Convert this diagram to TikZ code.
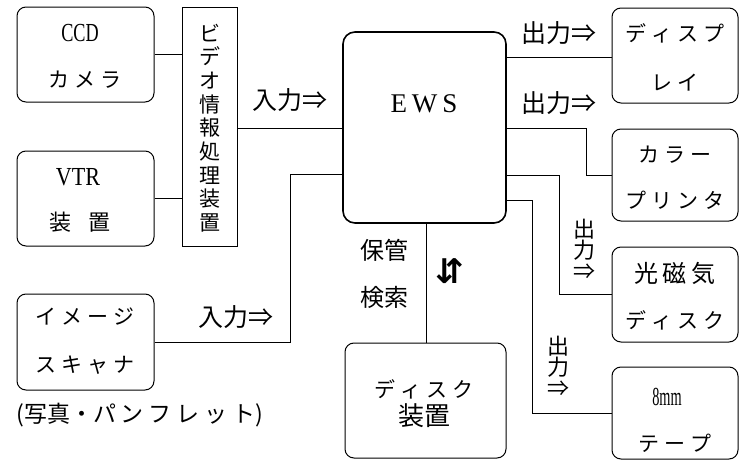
\documentclass[tikz,border=0pt]{standalone}
\usepackage{fontspec}
\newfontfamily\jp{Noto Sans CJK JP}
\newfontfamily\dv{DejaVu Sans}
\newfontfamily\lser{Liberation Serif}
\newcommand\gj{\hspace{5pt}}
\begin{document}
\begin{tikzpicture}[x=1pt,y=-1pt,
  box/.style={draw, line width=1pt, rounded corners=9pt, inner sep=0pt},
  sqbox/.style={draw, line width=1pt, inner sep=0pt},
  ewsbox/.style={draw, line width=1.6pt, rounded corners=12pt, inner sep=0pt},
  wire/.style={line width=0.8pt},
  jtxt/.style={inner sep=0pt, font=\jp\fontsize{21}{21}\selectfont},
  jbig/.style={inner sep=0pt, font=\jp\fontsize{24}{24}\selectfont},
  ltxt/.style={inner sep=0pt, font=\lser\fontsize{26}{26}\selectfont},
  vstack/.style={inner sep=0pt, align=center, font=\jp\fontsize{22}{21}\selectfont},
]
\useasboundingbox (0,0) rectangle (740,461);
% boxes
\node[box, minimum width=137pt, minimum height=95pt] (ccd) at (85.5,54.5) {};
\node[box, minimum width=137pt, minimum height=95pt] (vtr) at (85.5,198.5) {};
\node[sqbox, minimum width=55pt, minimum height=239pt] (video) at (209.5,126.5) {};
\node[box, minimum width=137pt, minimum height=96pt] (scan) at (85.5,342) {};
\node[ewsbox, minimum width=163pt, minimum height=191pt] (ews) at (424.5,127.5) {};
\node[box, minimum width=161pt, minimum height=115pt] (disk) at (425.5,400.5) {};
\node[box, minimum width=126pt, minimum height=95pt] (disp) at (675,55.5) {};
\node[box, minimum width=126pt, minimum height=92pt] (prn) at (675,175) {};
\node[box, minimum width=126pt, minimum height=95pt] (mo) at (675,294.5) {};
\node[box, minimum width=126pt, minimum height=92pt] (tape) at (675,413) {};
% box texts
\node[ltxt] (ccdA) at (80,33) {\scalebox{0.7}[1]{CCD}};
\node[jtxt] (ccdB) at (85,80) {カ\gj メ\gj ラ};
\node[ltxt] (vtrA) at (78,177) {\scalebox{0.85}[1]{VTR}};
\node[jtxt, font=\jp\fontsize{22}{22}\selectfont] (vtrB) at (80,222) {装\hspace{18pt}置};
\node[vstack, font=\jp\fontsize{21}{23.7}\selectfont] (videoT) at (209.5,128) {ビ\\デ\\オ\\情\\報\\処\\理\\装\\置};
\node[jtxt] (scanA) at (85,317) {イ\gj メ\gj ー\gj ジ};
\node[jtxt] (scanB) at (85,365) {ス\gj キ\gj ャ\gj ナ};
\node[jtxt, font=\jp\fontsize{23}{23}\selectfont] (note) at (140,415) {(写真・パ\gj ン\gj フ\gj レ\gj ッ\gj ト)};
\node[inner sep=0pt, font=\lser\fontsize{27}{27}\selectfont] (ewsT) at (424,104) {E\hspace{5pt}W\hspace{5pt}S};
\node[jtxt] (diskA) at (424,389) {デ\gj ィ\gj ス\gj ク};
\node[jbig, font=\jp\fontsize{26}{26}\selectfont] (diskB) at (424,416) {装置};
\node[jtxt] (dispA) at (675,33) {デ\gj ィ\gj ス\gj プ};
\node[jtxt] (dispB) at (675,83) {レ\gj イ};
\node[jtxt] (prnA) at (675,155) {カ\gj ラ\gj ー};
\node[jtxt] (prnB) at (675,200) {プ\gj リ\gj ン\gj タ};
\node[jbig] (moA) at (675,273) {光\gj 磁\gj 気};
\node[jtxt] (moB) at (675,320) {デ\gj ィ\gj ス\gj ク};
\node[ltxt] (tapeA) at (667,397) {\scalebox{0.55}[1]{8mm}};
\node[jtxt] (tapeB) at (675,443) {テ\gj ー\gj プ};
% connector labels
\node[jbig, font=\jp\fontsize{25}{25}\selectfont] (in1) at (290,100) {入力⇒};
\node[jbig, font=\jp\fontsize{25}{25}\selectfont] (in2) at (236,317) {入力⇒};
\node[jbig, font=\jp\fontsize{25}{25}\selectfont] (out1) at (559,33) {出力⇒};
\node[jbig, font=\jp\fontsize{25}{25}\selectfont] (out2) at (559,103) {出力⇒};
\node[vstack] (out3) at (584,249) {出\\力\\⇒};
\node[vstack] (out4) at (558,366) {出\\力\\⇒};
\node[jbig] (keep) at (384,250) {保管};
\node[jbig] (find) at (384,297) {検索};
\node[inner sep=0pt, font=\dv\bfseries\fontsize{34}{34}\selectfont] (updown) at (450,271) {⇵};
% connectors
\coordinate (scanin) at (290,174);
\coordinate (pb) at (586,128);
\coordinate (mb) at (559,175);
\coordinate (tb) at (532,200);
\coordinate (dk) at (426,0);
\draw[wire] (ccd.east) -- (ccd.east -| video.west);
\draw[wire] (vtr.east) -- (vtr.east -| video.west);
\draw[wire] (video.east |- 0,128) -- (ews.west |- 0,128);
\draw[wire] (scan.east) -| (scanin) -- (scanin -| ews.west);
\draw[wire] (ews.east |- 0,57) -- (disp.west |- 0,57);
\draw[wire] (pb -| ews.east) -- (pb) |- (prn.west);
\draw[wire] (mb -| ews.east) -- (mb) |- (mo.west);
\draw[wire] (tb -| ews.east) -- (tb) |- (tape.west);
\draw[wire] (ews.south -| dk) -- (disk.north -| dk);
\end{tikzpicture}
\end{document}
